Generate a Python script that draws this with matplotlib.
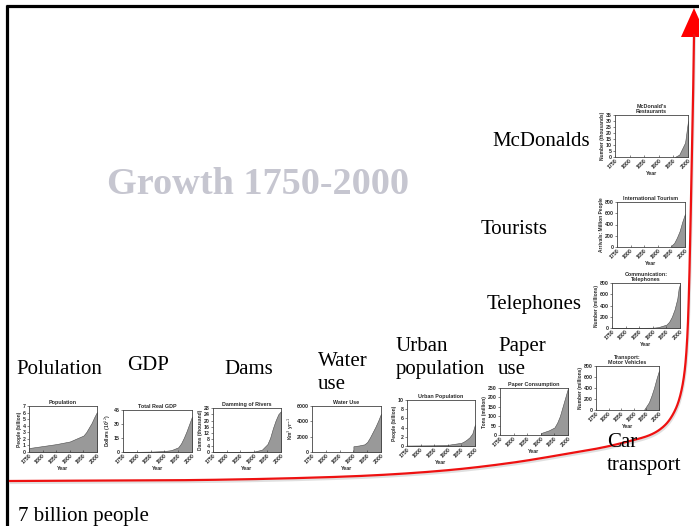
import numpy as np
import matplotlib
matplotlib.use("Agg")
import matplotlib.pyplot as plt
from matplotlib import patheffects as pe
from matplotlib.patches import Polygon

W, H = 699, 526

# ---------------- data ----------------
x_ticks = [1750, 1800, 1850, 1900, 1950, 2000]

pop_years = [1750, 1800, 1850, 1900, 1950, 1960, 1970, 1980, 1990, 2000]
pop_values = [0.6, 0.9, 1.2, 1.6, 2.5, 3.0, 3.7, 4.4, 5.3, 6.1]

gdp_years = [1750, 1800, 1850, 1900, 1925, 1950, 1960, 1970, 1980, 1990, 2000]
gdp_values = [0.1, 0.2, 0.4, 1.0, 2.0, 5.0, 9.0, 15.0, 22.0, 30.0, 38.0]

dams_years = [1750, 1900, 1930, 1950, 1960, 1970, 1980, 1990, 2000]
dams_values = [0, 0.2, 1.5, 5, 9, 15, 20, 24, 26]

water_years = [1900, 1920, 1940, 1950, 1960, 1970, 1980, 1990, 2000]
water_values = [750, 850, 1000, 1300, 1900, 2600, 3300, 4100, 5000]

urban_years = [1750, 1850, 1900, 1950, 1960, 1970, 1980, 1990, 2000]
urban_values = [0.1, 0.15, 0.25, 0.7, 1.0, 1.4, 1.9, 2.7, 4.7]

paper_years = [1900, 1920, 1930, 1950, 1960, 1970, 1980, 1990, 2000]
paper_values = [10, 20, 25, 40, 65, 100, 150, 200, 250]

mcd_years = [1955, 1970, 1980, 1990, 2000]
mcd_values = [0, 2, 7, 12, 30]

tour_years = [1950, 1960, 1970, 1980, 1990, 2000]
tour_values = [25, 70, 165, 280, 450, 590]

phone_years = [1750, 1900, 1920, 1950, 1960, 1970, 1980, 1990, 1995, 2000]
phone_values = [0, 5, 15, 60, 110, 200, 330, 520, 700, 780]

car_years = [1940, 1950, 1960, 1970, 1980, 1990, 2000]
car_values = [0, 70, 140, 260, 400, 570, 720]

labels = ["Polulation", "GDP", "Dams", "Water\nuse", "Urban\npopulation",
          "Paper\nuse", "Telephones", "Tourists", "McDonalds", "Car\ntransport"]
title_text = "Growth 1750-2000"
footer_text = "7 billion people"

# decorative growth arrow path (pixel coordinates)
curve_x = [10, 100, 200, 300, 380, 450, 510, 560, 600, 630, 650, 663, 672,
           679, 684, 687, 689, 691, 693, 694]
curve_y = [481, 480.5, 480, 478, 475, 470, 463, 455, 448, 441, 435, 427, 416,
           400, 376, 342, 290, 200, 100, 35]

# ---------------- figure ----------------
fig = plt.figure(figsize=(W / 100, H / 100), dpi=100)
bg = fig.add_axes([0, 0, 1, 1])
bg.set_xlim(0, W)
bg.set_ylim(H, 0)
bg.axis("off")

# slide frame
bg.plot([7, 7], [5, H], color="black", lw=2.3, solid_capstyle="butt")
bg.plot([6, W], [6, 6], color="black", lw=2.3, solid_capstyle="butt")


def catmull(xs, ys, n=20):
    P = np.column_stack([xs, ys]).astype(float)
    P = np.vstack([P[0], P, P[-1]])
    out = []
    for i in range(1, len(P) - 2):
        p0, p1, p2, p3 = P[i - 1], P[i], P[i + 1], P[i + 2]
        for t in np.linspace(0, 1, n, endpoint=False):
            t2, t3 = t * t, t * t * t
            out.append(0.5 * ((2 * p1) + (-p0 + p2) * t +
                              (2 * p0 - 5 * p1 + 4 * p2 - p3) * t2 +
                              (-p0 + 3 * p1 - 3 * p2 + p3) * t3))
    out.append(P[-2])
    out = np.array(out)
    return out[:, 0], out[:, 1]


cx, cy = catmull(curve_x, curve_y)
bg.plot(cx, cy, color="#ee1111", lw=1.6,
        path_effects=[pe.SimpleLineShadow(offset=(0.6, -1.4), shadow_color="#999999", alpha=0.3),
                      pe.Normal()])
bg.add_patch(Polygon([(694, 8), (681, 37), (707, 37)], closed=True,
                     facecolor="#ff0000", edgecolor="none"))

serif = ["Liberation Serif", "DejaVu Serif"]
bg.text(258, 184, title_text, fontsize=27.5, fontweight="bold", family=serif,
        color="#c6c6d0", ha="center", va="center")

label_pos = [(16, 369), (127, 365), (224, 370), (318, 373), (396, 358),
             (498, 358), (487, 305), (481, 230), (492, 142), (607, 454)]
for txt, (lx, ly) in zip(labels, label_pos):
    bg.text(lx, ly, txt, fontsize=15, family=serif, color="black",
            ha="left", va="center", linespacing=1.22)
bg.text(18, 516, footer_text, fontsize=15, family=serif, color="black",
        ha="left", va="center")

sans = ["Liberation Sans", "DejaVu Sans"]
tc = "#2a2a2a"


def mini(rect, title, ylabel, years, values, yticks, ytop):
    l, t, r, b = rect
    ax = fig.add_axes([l / W, 1 - b / H, (r - l) / W, (b - t) / H])
    ax.fill_between(years, values, 0, facecolor="#999999", edgecolor="#4a4a4a", lw=0.4)
    ax.set_xlim(1750, 2000)
    ax.set_ylim(0, ytop)
    ax.set_xticks(x_ticks)
    ax.set_xticklabels([str(v) for v in x_ticks], rotation=45, ha="right",
                       rotation_mode="anchor", fontsize=3.8, fontweight="bold",
                       family=sans, color=tc)
    ax.set_yticks(yticks)
    ax.set_yticklabels([str(v) for v in yticks], fontsize=3.8, fontweight="bold",
                       family=sans, color=tc)
    ax.tick_params(axis="both", length=1.4, width=0.4, pad=0.8, colors=tc)
    ax.tick_params(axis="x", direction="in")
    for s in ax.spines.values():
        s.set_linewidth(0.6)
        s.set_color("#444444")
    ax.set_title(title, fontsize=3.9, fontweight="bold", family=sans, color=tc,
                 pad=1.5, linespacing=1.0)
    ax.set_xlabel("Year", fontsize=3.8, fontweight="bold", family=sans, color=tc,
                  labelpad=1)
    ax.set_ylabel(ylabel, fontsize=3.5, fontweight="bold", family=sans, color=tc,
                  labelpad=1)
    return ax


mini((29, 406, 97, 452), "Population", "People (billion)", pop_years, pop_values,
     list(range(0, 8)), 7)
mini((123, 410, 192, 452), "Total Real GDP", "Dollars (10$^{12}$)", gdp_years, gdp_values,
     [0, 15, 30, 45], 45)
mini((213, 408, 281, 452), "Damming of Rivers", "Dams (thousand)", dams_years, dams_values,
     list(range(0, 29, 4)), 28)
mini((312, 406, 381, 452), "Water Use", "Km$^3$ yr$^{-1}$", water_years, water_values,
     [0, 2000, 4000, 6000], 6000)
mini((407, 400, 475, 446), "Urban Population", "People (billion)", urban_years, urban_values,
     list(range(0, 11, 2)), 10)
mini((500, 388, 568, 435), "Paper Consumption", "Tons (million)", paper_years, paper_values,
     list(range(0, 251, 50)), 250)
mini((615, 115, 688, 157), "McDonald's\nRestaurants", "Number (thousands)", mcd_years, mcd_values,
     list(range(0, 36, 5)), 35)
mini((617, 202, 685, 247), "International Tourism", "Arrivals: Million People", tour_years, tour_values,
     list(range(0, 801, 200)), 800)
mini((612, 283, 680, 328), "Communication:\nTelephones", "Number (millions)", phone_years, phone_values,
     list(range(0, 801, 200)), 800)
mini((596, 366, 659, 410), "Transport:\nMotor Vehicles", "Number (millions)", car_years, car_values,
     list(range(0, 801, 200)), 800)

fig.savefig("out.png", dpi=100)
